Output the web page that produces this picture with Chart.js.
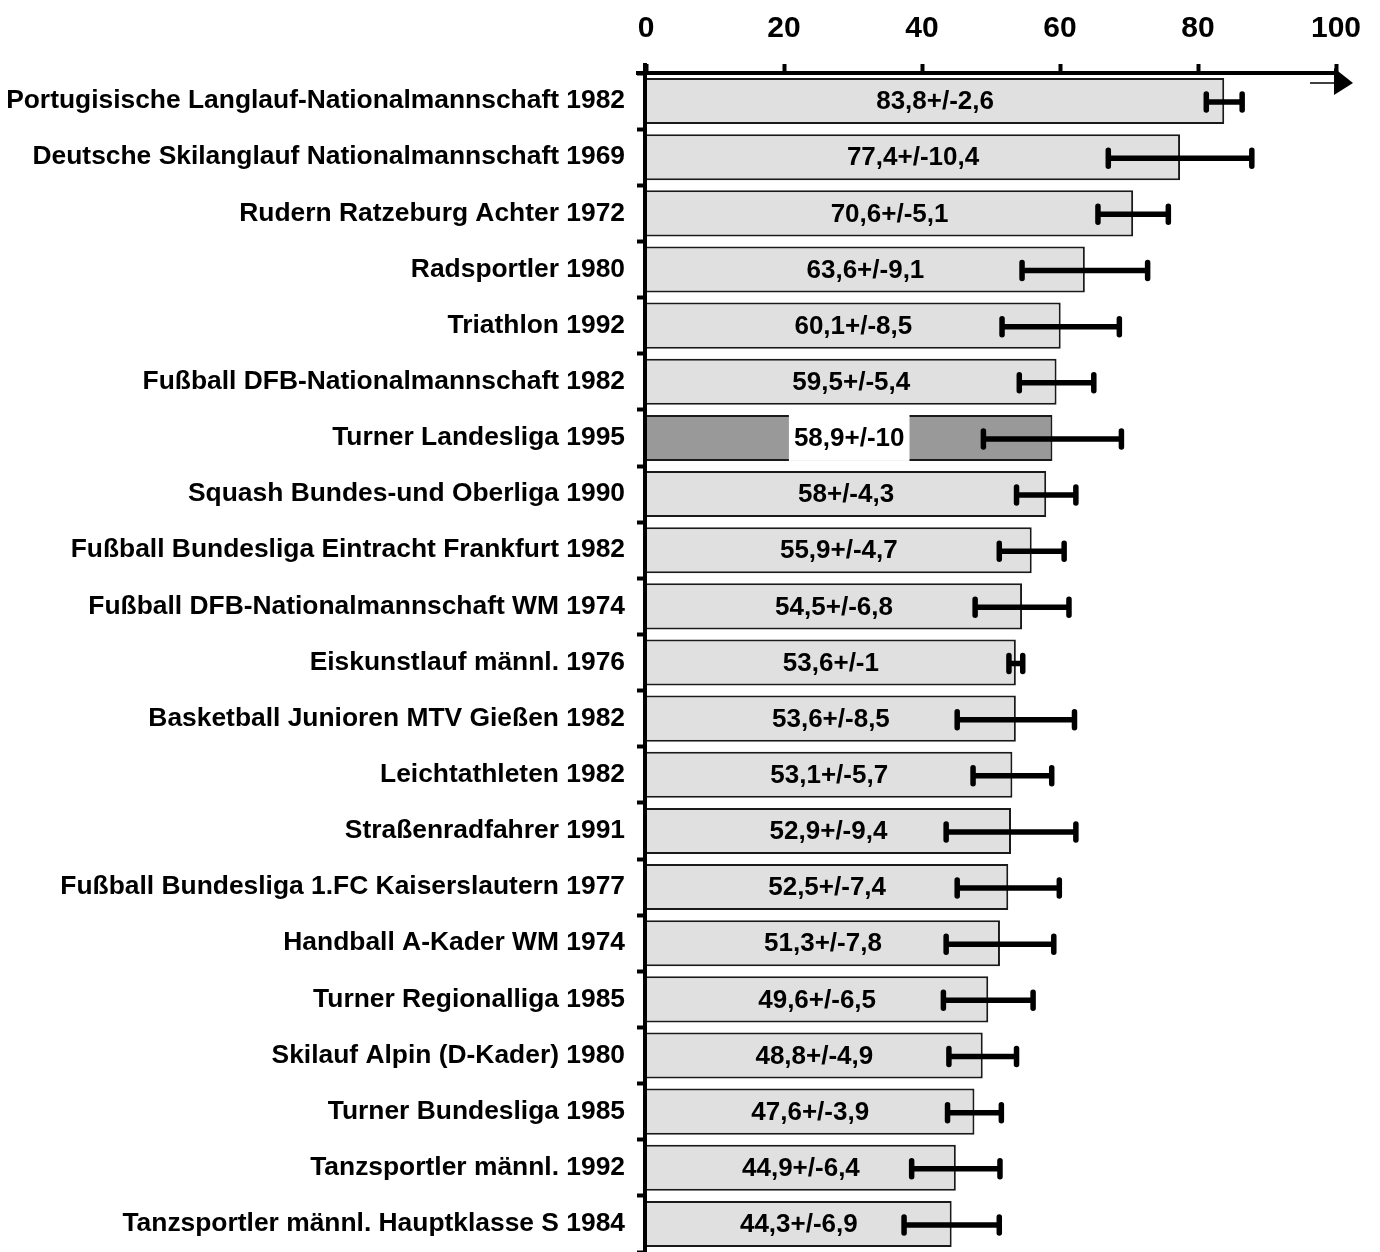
<!DOCTYPE html>
<html lang="de">
<head>
  <meta charset="UTF-8" />
  <title>Mittelwerte Sportlergruppen</title>
  <script src="https://cdn.jsdelivr.net/npm/chart.js"></script>
  <style>
    body {
      margin: 0;
      padding: 0;
      background: #ffffff;
      overflow: hidden;
    }
  </style>
</head>
<body>
  <canvas id="chart" width="1380" height="1252"></canvas>

  <script>
    const groups = [
      'Portugisische Langlauf-Nationalmannschaft 1982',
      'Deutsche Skilanglauf Nationalmannschaft 1969',
      'Rudern Ratzeburg Achter 1972',
      'Radsportler 1980',
      'Triathlon 1992',
      'Fußball DFB-Nationalmannschaft 1982',
      'Turner Landesliga 1995',
      'Squash Bundes-und Oberliga 1990',
      'Fußball Bundesliga Eintracht Frankfurt 1982',
      'Fußball DFB-Nationalmannschaft WM 1974',
      'Eiskunstlauf männl. 1976',
      'Basketball Junioren MTV Gießen 1982',
      'Leichtathleten 1982',
      'Straßenradfahrer 1991',
      'Fußball Bundesliga 1.FC Kaiserslautern 1977',
      'Handball A-Kader WM 1974',
      'Turner Regionalliga 1985',
      'Skilauf Alpin (D-Kader) 1980',
      'Turner Bundesliga 1985',
      'Tanzsportler männl. 1992',
      'Tanzsportler männl. Hauptklasse S 1984'
    ];
    const means = [83.8, 77.4, 70.6, 63.6, 60.1, 59.5, 58.9, 58, 55.9, 54.5, 53.6, 53.6, 53.1, 52.9, 52.5, 51.3, 49.6, 48.8, 47.6, 44.9, 44.3];
    const errors = [2.6, 10.4, 5.1, 9.1, 8.5, 5.4, 10, 4.3, 4.7, 6.8, 1, 8.5, 5.7, 9.4, 7.4, 7.8, 6.5, 4.9, 3.9, 6.4, 6.9];
    const xTicks = [0, 20, 40, 60, 80, 100];
    const highlighted = 'Turner Landesliga 1995';

    const FONT = "'Liberation Sans', Arial, sans-serif";
    const fmt = v => String(v).replace('.', ',');

    // axis lines with arrow, drawn on top of the bars
    const axesPlugin = {
      id: 'axes',
      afterDatasetsDraw(chart) {
        const { ctx, chartArea, scales: { x } } = chart;
        const left = x.getPixelForValue(0);
        const right = x.getPixelForValue(100);
        const top = chartArea.top;
        ctx.save();
        ctx.strokeStyle = '#000';
        ctx.fillStyle = '#000';
        ctx.lineWidth = 4;
        ctx.beginPath();
        ctx.moveTo(left - 10, top);
        ctx.lineTo(right, top);
        ctx.moveTo(left - 1, top - 10);
        ctx.lineTo(left - 1, chart.height);
        ctx.stroke();
        ctx.beginPath();
        ctx.moveTo(right - 2, top - 5);
        ctx.lineTo(right + 17, top + 10);
        ctx.lineTo(right - 2, top + 22);
        ctx.closePath();
        ctx.fill();
        ctx.lineWidth = 1.5;
        ctx.beginPath();
        ctx.moveTo(right - 26, top + 10);
        ctx.lineTo(right + 6, top + 10);
        ctx.stroke();
        ctx.restore();
      }
    };

    const errorBarsPlugin = {
      id: 'errorBars',
      afterDatasetsDraw(chart) {
        const { ctx, scales: { x, y } } = chart;
        ctx.save();
        ctx.strokeStyle = '#000';
        ctx.lineCap = 'round';
        ctx.lineWidth = 5.5;
        means.forEach((m, i) => {
          const cy = y.getPixelForValue(i) + 1;
          const x1 = x.getPixelForValue(m - errors[i]);
          const x2 = x.getPixelForValue(m + errors[i]);
          ctx.beginPath();
          ctx.moveTo(x1, cy);
          ctx.lineTo(x2, cy);
          ctx.moveTo(x1, cy - 8);
          ctx.lineTo(x1, cy + 8);
          ctx.moveTo(x2, cy - 8);
          ctx.lineTo(x2, cy + 8);
          ctx.stroke();
        });
        ctx.restore();
      }
    };

    const valueLabelPlugin = {
      id: 'valueLabels',
      afterDatasetsDraw(chart) {
        const { ctx, scales: { x, y } } = chart;
        const meta = chart.getDatasetMeta(0);
        ctx.save();
        ctx.font = 'bold 26px ' + FONT;
        ctx.textAlign = 'center';
        ctx.textBaseline = 'middle';
        means.forEach((m, i) => {
          const text = fmt(m) + '+/-' + fmt(errors[i]);
          const cx = (x.getPixelForValue(0) + x.getPixelForValue(m)) / 2;
          const cy = y.getPixelForValue(i);
          if (groups[i] === highlighted) {
            const w = ctx.measureText(text).width + 10;
            const h = meta.data[i].height;
            ctx.fillStyle = '#fff';
            ctx.fillRect(cx - w / 2, cy - h / 2, w, h);
          }
          ctx.fillStyle = '#000';
          ctx.fillText(text, cx, cy + 1);
        });
        ctx.restore();
      }
    };

    new Chart(document.getElementById('chart').getContext('2d'), {
      type: 'bar',
      data: {
        labels: groups,
        datasets: [{
          data: means,
          backgroundColor: groups.map(g => g === highlighted ? '#999999' : '#e0e0e0'),
          borderColor: '#1a1a1a',
          borderWidth: 2,
          barPercentage: 0.82,
          categoryPercentage: 1
        }]
      },
      options: {
        indexAxis: 'y',
        responsive: false,
        animation: false,
        layout: { padding: { top: 0, right: 44, bottom: 0, left: 0 } },
        plugins: {
          legend: { display: false },
          tooltip: { enabled: false }
        },
        scales: {
          x: {
            position: 'top',
            min: 0,
            max: 100,
            afterBuildTicks: s => { s.ticks = xTicks.map(v => ({ value: v })); },
            afterFit: s => { s.height = 73; s.paddingLeft = 0; s.paddingRight = 0; },
            border: { display: false },
            grid: { drawOnChartArea: false, drawTicks: true, tickLength: 9, tickWidth: 4, tickColor: '#000' },
            ticks: { color: '#000', padding: 17, font: { family: FONT, size: 30, weight: 'bold' } }
          },
          y: {
            afterFit: s => { s.width = 646; s.paddingTop = 0; s.paddingBottom = 0; },
            border: { display: false },
            grid: { offset: true, drawOnChartArea: false, drawTicks: true, tickLength: 9, tickWidth: 4, tickColor: '#000' },
            ticks: { color: '#000', padding: 12, font: { family: FONT, size: 26.4, weight: 'bold' } }
          }
        }
      },
      plugins: [errorBarsPlugin, valueLabelPlugin, axesPlugin]
    });
  </script>
</body>
</html>
